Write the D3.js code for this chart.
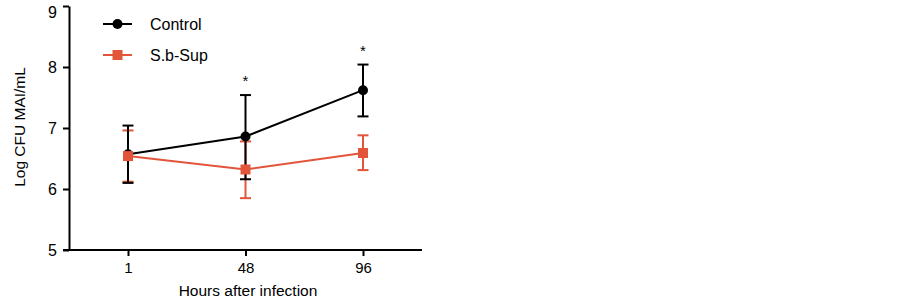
<!DOCTYPE html>
<html>
<head>
<meta charset="utf-8">
<script src="https://cdn.jsdelivr.net/npm/d3@7"></script>
<style>
  body { margin: 0; background: #fff; }
  text { font-family: "Liberation Sans", Arial, sans-serif; }
</style>
</head>
<body>
<div id="chart"></div>
<script>
const hours = ["1", "48", "96"];
const controlMean = [6.57, 6.86, 7.62];
const controlUpper = [7.04, 7.54, 8.04];
const controlLower = [6.10, 6.16, 7.19];
const sbMean = [6.54, 6.32, 6.59];
const sbUpper = [6.96, 6.78, 6.88];
const sbLower = [6.12, 5.85, 6.31];
const yTicks = [5, 6, 7, 8, 9];
const stars = [null, "*", "*"];

const red = "#e2553a";

const svg = d3.select("#chart")
   .append("svg")
   .attr("width", 903)
   .attr("height", 299);

const xScale = d3.scalePoint().domain(hours).range([128, 363]);
const yScale = d3.scaleLinear().domain([5, 9]).range([250, 6]);

// y axis
const yAxis = svg.append("g")
   .attr("transform", "translate(69,0)")
   .call(d3.axisLeft(yScale).tickValues(yTicks).tickFormat(d3.format("d"))
      .tickSize(6).tickSizeOuter(0).tickPadding(6));
yAxis.select(".domain").attr("stroke-width", 2);
yAxis.selectAll(".tick line").attr("stroke-width", 2);
yAxis.selectAll(".tick text").style("font-size", "16px").attr("fill", "#000");
// top label sits just under the axis end so it is not clipped
yAxis.selectAll(".tick text").filter((d) => d === 9).attr("dy", "0.7em");

// x axis
const xAxis = svg.append("g")
   .attr("transform", "translate(0,250)")
   .call(d3.axisBottom(xScale).tickSize(6).tickSizeOuter(0).tickPadding(6));
xAxis.select(".domain").remove();
xAxis.append("line")
   .attr("x1", 63).attr("x2", 422)
   .attr("stroke", "#000").attr("stroke-width", 2);
xAxis.selectAll(".tick line").attr("stroke-width", 2);
xAxis.selectAll(".tick text").style("font-size", "15px").attr("fill", "#000");

svg.append("text")
   .attr("transform", "translate(25,127) rotate(-90)")
   .style("text-anchor", "middle")
   .style("font-size", "15.5px")
   .text("Log CFU MAI/mL");

svg.append("text")
   .attr("x", 248)
   .attr("y", 296)
   .style("text-anchor", "middle")
   .style("font-size", "15.5px")
   .text("Hours after infection");

function rows(mean, up, lo) {
   return hours.map((h, i) => ({ h: h, m: mean[i], u: up[i], l: lo[i] }));
}
const control = rows(controlMean, controlUpper, controlLower);
const sb = rows(sbMean, sbUpper, sbLower);

function errorBars(data, color) {
   const g = svg.append("g").attr("stroke", color).attr("stroke-width", 2);
   data.forEach((d) => {
      const x = xScale(d.h);
      g.append("line").attr("x1", x).attr("x2", x)
         .attr("y1", yScale(d.u)).attr("y2", yScale(d.l));
      g.append("line").attr("x1", x - 5.5).attr("x2", x + 5.5)
         .attr("y1", yScale(d.u)).attr("y2", yScale(d.u));
      g.append("line").attr("x1", x - 5.5).attr("x2", x + 5.5)
         .attr("y1", yScale(d.l)).attr("y2", yScale(d.l));
   });
}

const line = d3.line().x((d) => xScale(d.h)).y((d) => yScale(d.m));

errorBars(sb, red);
errorBars(control, "#000");

svg.append("path")
   .datum(control)
   .attr("d", line)
   .attr("fill", "none")
   .attr("stroke", "#000")
   .attr("stroke-width", 2);

svg.selectAll(".dot")
   .data(control)
   .enter()
   .append("circle")
   .attr("cx", (d) => xScale(d.h))
   .attr("cy", (d) => yScale(d.m))
   .attr("r", 5)
   .attr("fill", "#000");

svg.append("path")
   .datum(sb)
   .attr("d", line)
   .attr("fill", "none")
   .attr("stroke", red)
   .attr("stroke-width", 2);

svg.selectAll(".sq")
   .data(sb)
   .enter()
   .append("rect")
   .attr("x", (d) => xScale(d.h) - 5)
   .attr("y", (d) => yScale(d.m) - 5)
   .attr("width", 10)
   .attr("height", 10)
   .attr("fill", red);

// significance stars
svg.selectAll(".star")
   .data(control.filter((d, i) => stars[i]))
   .enter()
   .append("text")
   .attr("x", (d) => xScale(d.h))
   .attr("y", (d) => yScale(d.u) - 9)
   .style("text-anchor", "middle")
   .style("font-size", "15px")
   .text("*");

// legend
const legend = [
   { name: "Control", color: "#000", shape: "circle" },
   { name: "S.b-Sup", color: red, shape: "square" }
];
legend.forEach((d, i) => {
   const y = 24 + i * 31;
   svg.append("line")
      .attr("x1", 103).attr("x2", 132)
      .attr("y1", y).attr("y2", y)
      .attr("stroke", d.color).attr("stroke-width", 2);
   if (d.shape === "circle") {
      svg.append("circle").attr("cx", 117.5).attr("cy", y).attr("r", 5).attr("fill", d.color);
   } else {
      svg.append("rect").attr("x", 112.5).attr("y", y - 5).attr("width", 10).attr("height", 10).attr("fill", d.color);
   }
   svg.append("text")
      .attr("x", 150)
      .attr("y", y + 5.5)
      .style("font-size", "16px")
      .text(d.name);
});
</script>
</body>
</html>
